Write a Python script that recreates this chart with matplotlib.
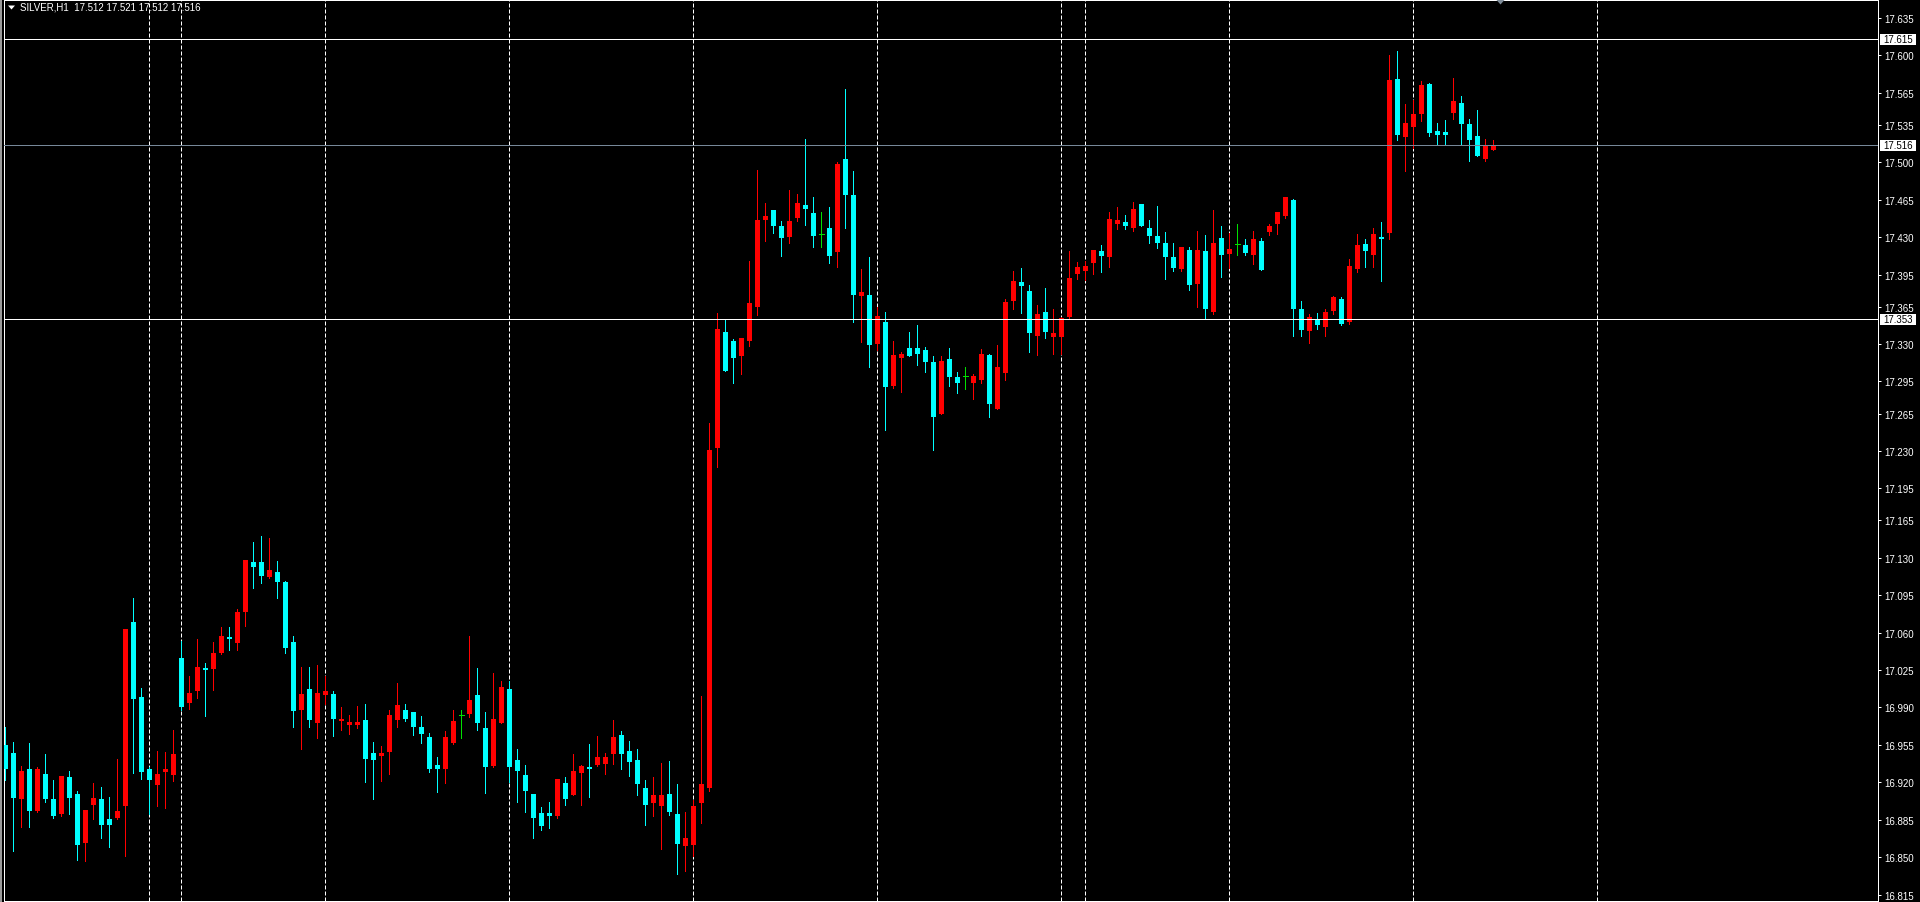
import matplotlib
matplotlib.use('Agg')
import matplotlib.pyplot as plt
from matplotlib.patches import Polygon, Rectangle
from matplotlib.transforms import IdentityTransform, blended_transform_factory

# ---------------- data ----------------
opens = [16.955, 16.947, 16.904, 16.932, 16.893, 16.928, 16.904, 16.890, 16.925, 16.909,
         16.863, 16.899, 16.904, 16.886, 16.887, 16.898, 17.070, 17.000, 16.932, 16.917,
         16.930, 16.927, 17.036, 16.994, 17.005, 17.027, 17.026, 17.041, 17.056, 17.050,
         17.079, 17.126, 17.126, 17.112, 17.117, 17.107, 17.051, 16.988, 17.007, 16.975,
         17.002, 17.003, 16.977, 16.974, 16.974, 16.978, 16.947, 16.945, 16.948, 16.978,
         16.988, 16.986, 16.972, 16.962, 16.936, 16.932, 16.957, 16.983, 16.984, 17.002,
         16.971, 16.935, 16.975, 17.007, 16.941, 16.927, 16.909, 16.891, 16.891, 16.888,
         16.919, 16.908, 16.929, 16.934, 16.936, 16.937, 16.946, 16.964, 16.949, 16.941,
         16.915, 16.901, 16.898, 16.909, 16.890, 16.860, 16.861, 16.901, 16.915, 17.233,
         17.341, 17.333, 17.319, 17.333, 17.365, 17.446, 17.455, 17.440, 17.430, 17.448,
         17.460, 17.453, 17.433, 17.439, 17.416, 17.503, 17.469, 17.375, 17.376, 17.330,
         17.351, 17.291, 17.317, 17.326, 17.326, 17.324, 17.313, 17.265, 17.316, 17.299,
         17.300, 17.294, 17.296, 17.320, 17.269, 17.303, 17.370, 17.388, 17.380, 17.338,
         17.360, 17.337, 17.337, 17.355, 17.396, 17.398, 17.406, 17.417, 17.411, 17.442,
         17.444, 17.439, 17.461, 17.439, 17.431, 17.425, 17.411, 17.400, 17.418, 17.386,
         17.417, 17.360, 17.429, 17.414, 17.424, 17.423, 17.413, 17.426, 17.435, 17.442,
         17.450, 17.465, 17.363, 17.342, 17.353, 17.346, 17.361, 17.372, 17.351, 17.400,
         17.424, 17.413, 17.430, 17.434, 17.578, 17.524, 17.533, 17.545, 17.573, 17.529,
         17.528, 17.546, 17.556, 17.536, 17.525, 17.503, 17.512]
highs = [16.972, 16.958, 16.935, 16.957, 16.934, 16.946, 16.922, 16.926, 16.931, 16.912,
         16.894, 16.919, 16.916, 16.906, 16.942, 17.063, 17.092, 17.008, 16.934, 16.949,
         16.948, 16.969, 17.052, 17.019, 17.054, 17.032, 17.051, 17.065, 17.065, 17.082,
         17.128, 17.145, 17.150, 17.149, 17.127, 17.108, 17.057, 17.028, 17.028, 17.030,
         17.019, 17.005, 16.990, 16.983, 16.991, 16.993, 16.958, 16.954, 16.988, 17.013,
         16.993, 16.986, 16.982, 16.966, 16.944, 16.968, 16.988, 16.988, 17.057, 17.027,
         16.986, 17.022, 17.015, 17.015, 16.951, 16.936, 16.909, 16.897, 16.902, 16.923,
         16.925, 16.946, 16.936, 16.956, 16.963, 16.947, 16.978, 16.968, 16.959, 16.951,
         16.922, 16.925, 16.938, 16.940, 16.918, 16.892, 16.903, 17.001, 17.256, 17.359,
         17.353, 17.335, 17.336, 17.408, 17.493, 17.462, 17.455, 17.445, 17.474, 17.470,
         17.522, 17.468, 17.454, 17.458, 17.500, 17.569, 17.492, 17.400, 17.411, 17.365,
         17.360, 17.333, 17.323, 17.341, 17.348, 17.327, 17.319, 17.319, 17.326, 17.304,
         17.309, 17.302, 17.325, 17.321, 17.329, 17.372, 17.398, 17.401, 17.385, 17.367,
         17.382, 17.363, 17.355, 17.417, 17.407, 17.408, 17.418, 17.423, 17.454, 17.458,
         17.451, 17.463, 17.461, 17.446, 17.459, 17.435, 17.425, 17.421, 17.421, 17.436,
         17.432, 17.455, 17.440, 17.434, 17.442, 17.428, 17.436, 17.429, 17.442, 17.454,
         17.468, 17.466, 17.370, 17.358, 17.359, 17.363, 17.375, 17.374, 17.410, 17.433,
         17.428, 17.439, 17.444, 17.600, 17.604, 17.555, 17.558, 17.576, 17.574, 17.537,
         17.540, 17.579, 17.562, 17.541, 17.549, 17.522, 17.521]
lows = [16.922, 16.856, 16.878, 16.878, 16.892, 16.902, 16.887, 16.888, 16.890, 16.847,
        16.846, 16.886, 16.868, 16.859, 16.886, 16.851, 16.929, 16.923, 16.890, 16.898,
        16.896, 16.921, 16.988, 16.989, 16.999, 16.982, 17.006, 17.040, 17.044, 17.044,
        17.066, 17.102, 17.106, 17.111, 17.092, 17.041, 16.972, 16.951, 16.972, 16.961,
        16.993, 16.963, 16.969, 16.965, 16.971, 16.920, 16.904, 16.921, 16.928, 16.972,
        16.977, 16.964, 16.957, 16.930, 16.911, 16.919, 16.956, 16.961, 16.981, 16.969,
        16.910, 16.934, 16.975, 16.920, 16.902, 16.892, 16.868, 16.875, 16.877, 16.887,
        16.899, 16.908, 16.899, 16.906, 16.935, 16.928, 16.937, 16.932, 16.926, 16.908,
        16.880, 16.888, 16.858, 16.889, 16.834, 16.837, 16.851, 16.882, 16.912, 17.215,
        17.305, 17.294, 17.302, 17.328, 17.357, 17.426, 17.434, 17.412, 17.425, 17.445,
        17.441, 17.421, 17.421, 17.406, 17.402, 17.439, 17.351, 17.332, 17.309, 17.324,
        17.250, 17.289, 17.285, 17.319, 17.310, 17.304, 17.231, 17.265, 17.291, 17.284,
        17.288, 17.279, 17.294, 17.262, 17.269, 17.296, 17.363, 17.359, 17.323, 17.320,
        17.336, 17.321, 17.321, 17.354, 17.391, 17.390, 17.396, 17.397, 17.402, 17.438,
        17.438, 17.436, 17.440, 17.425, 17.420, 17.391, 17.398, 17.398, 17.381, 17.365,
        17.354, 17.358, 17.393, 17.401, 17.413, 17.413, 17.405, 17.399, 17.432, 17.433,
        17.448, 17.338, 17.338, 17.331, 17.344, 17.338, 17.358, 17.348, 17.349, 17.397,
        17.402, 17.402, 17.389, 17.428, 17.521, 17.492, 17.513, 17.539, 17.525, 17.517,
        17.517, 17.541, 17.517, 17.501, 17.506, 17.501, 17.512]
closes = [16.932, 16.905, 16.931, 16.893, 16.932, 16.904, 16.888, 16.926, 16.905, 16.861,
          16.894, 16.905, 16.880, 16.880, 16.893, 17.063, 16.998, 16.930, 16.922, 16.928,
          16.932, 16.946, 16.990, 17.004, 17.028, 17.025, 17.041, 17.057, 17.054, 17.079,
          17.128, 17.121, 17.113, 17.119, 17.107, 17.046, 16.987, 17.003, 16.978, 17.004,
          17.005, 16.979, 16.979, 16.976, 16.976, 16.942, 16.941, 16.947, 16.983, 16.992,
          16.979, 16.972, 16.965, 16.932, 16.932, 16.962, 16.977, 16.983, 16.997, 16.975,
          16.934, 16.979, 17.009, 16.934, 16.931, 16.912, 16.887, 16.879, 16.888, 16.923,
          16.904, 16.931, 16.935, 16.932, 16.944, 16.944, 16.962, 16.946, 16.939, 16.918,
          16.899, 16.908, 16.908, 16.892, 16.862, 16.868, 16.898, 16.918, 17.231, 17.344,
          17.305, 17.317, 17.336, 17.368, 17.446, 17.450, 17.440, 17.429, 17.445, 17.462,
          17.456, 17.431, 17.433, 17.412, 17.498, 17.469, 17.376, 17.379, 17.329, 17.356,
          17.290, 17.320, 17.321, 17.319, 17.321, 17.313, 17.262, 17.314, 17.299, 17.294,
          17.300, 17.300, 17.321, 17.274, 17.309, 17.369, 17.389, 17.384, 17.340, 17.358,
          17.341, 17.340, 17.354, 17.392, 17.402, 17.403, 17.418, 17.412, 17.447, 17.446,
          17.440, 17.456, 17.440, 17.431, 17.425, 17.411, 17.401, 17.421, 17.385, 17.418,
          17.363, 17.425, 17.413, 17.419, 17.424, 17.415, 17.428, 17.399, 17.440, 17.454,
          17.468, 17.363, 17.343, 17.355, 17.348, 17.360, 17.374, 17.349, 17.403, 17.423,
          17.417, 17.433, 17.428, 17.577, 17.526, 17.537, 17.545, 17.572, 17.527, 17.526,
          17.526, 17.557, 17.536, 17.521, 17.506, 17.515, 17.516]

separator_bars = [18, 22, 40, 63, 86, 109, 132, 135, 153, 176, 199]
level_prices = [17.615, 17.353]
bid_price = 17.516
price_ticks = [17.635, 17.600, 17.565, 17.535, 17.500, 17.465, 17.430, 17.395, 17.365,
               17.330, 17.295, 17.265, 17.230, 17.195, 17.165, 17.130, 17.095, 17.060,
               17.025, 16.990, 16.955, 16.920, 16.885, 16.850, 16.815]
chart_title = "SILVER,H1  17.512 17.521 17.512 17.516"

# ---------------- styling ----------------
BULL = '#ff0000'
BEAR = '#00ffff'
DOJI = '#00e000'
BIDC = '#778899'
PX = 0.72  # one pixel in points at dpi 100
plt.rcParams['font.family'] = ['Liberation Sans', 'DejaVu Sans']

W, H = 1920, 903
fig = plt.figure(figsize=(W / 100, H / 100), dpi=100, facecolor='black')
axL, axR, axT, axB = 4, 1878, 1, 901.5
ax = fig.add_axes([axL / W, (H - axB) / H, (axR - axL) / W, (axB - axT) / H])
ax.set_facecolor('black')

ymax, ymin = 17.6519, 16.8094
ax.set_ylim(ymin, ymax)
ax.set_xlim(-0.1625, 234.09)
px_per_unit = (axB - axT) / (ymax - ymin)
min_body = 1.1 / px_per_unit
bw = 0.6

# period separators
for s in separator_bars:
    ax.axvline(s, color='white', lw=PX, linestyle=(0, (4, 2)), zorder=1)

# candles
for i, (o, h, l, c) in enumerate(zip(opens, highs, lows, closes)):
    if c > o:
        col = BULL
    elif c < o:
        col = BEAR
    else:
        col = DOJI
    ax.vlines(i, l, h, color=col, lw=PX, zorder=2, antialiased=False)
    if col == DOJI:
        ax.hlines(o, i - bw / 2, i + bw / 2, color=col, lw=PX, zorder=3, antialiased=False)
    else:
        lo = min(o, c)
        hgt = abs(c - o)
        if hgt < min_body:
            lo = (o + c) / 2 - min_body / 2
            hgt = min_body
        ax.bar(i, hgt, bottom=lo, width=bw, color=col, linewidth=0, zorder=3, antialiased=False)

# horizontal levels
for p in level_prices:
    ax.axhline(p, color='white', lw=PX, zorder=4, antialiased=False)
ax.axhline(bid_price, color=BIDC, lw=PX, zorder=4, antialiased=False)

# axes look
for sp in ax.spines.values():
    sp.set_color('white')
    sp.set_linewidth(PX)
ax.yaxis.tick_right()
ax.set_yticks(price_ticks)
ax.set_yticklabels([f"{t:.3f}" for t in price_ticks])
ax.tick_params(axis='y', right=True, left=False, labelright=True, labelleft=False,
               direction='out', length=3 * PX, width=PX, colors='white',
               labelsize=7, pad=2.2)
ax.set_xticks(list(range(0, 235, 8)))
ax.tick_params(axis='x', bottom=True, labelbottom=False, direction='out',
               length=4 * PX, width=PX, colors='white')

# price label boxes on the scale
tr = blended_transform_factory(fig.transFigure, ax.transData)
box_h = 11 / px_per_unit
for p in [level_prices[0], bid_price, level_prices[1]]:
    ax.add_patch(Rectangle((1880 / W, p - box_h / 2), 36 / W, box_h, transform=tr,
                           facecolor='white', edgecolor='none', clip_on=False, zorder=10))
    ax.text(1883.5 / W, p, f"{p:.3f}", transform=tr, color='black', fontsize=7,
            va='center', ha='left', zorder=11, clip_on=False)

# title with small triangle
fig.add_artist(Polygon([(8, H - 6.5), (15, H - 6.5), (11.5, H - 10.5)], closed=True,
                       transform=IdentityTransform(), facecolor='white', edgecolor='none'))
fig.text(20 / W, 1 - 8 / H, chart_title, color='white', fontsize=7, va='center', ha='left')

# chart-shift marker at top
fig.add_artist(Polygon([(1496.5, H - 1), (1504.5, H - 1), (1500.5, H - 5.5)], closed=True,
                       transform=IdentityTransform(), facecolor='#7f8c99', edgecolor='none'))
# window edge on the left
fig.add_artist(Rectangle((0, 0), 1.5, H, transform=IdentityTransform(),
                         facecolor='#9a9a9a', edgecolor='none'))

fig.savefig('out.png', dpi=100, facecolor='black')
